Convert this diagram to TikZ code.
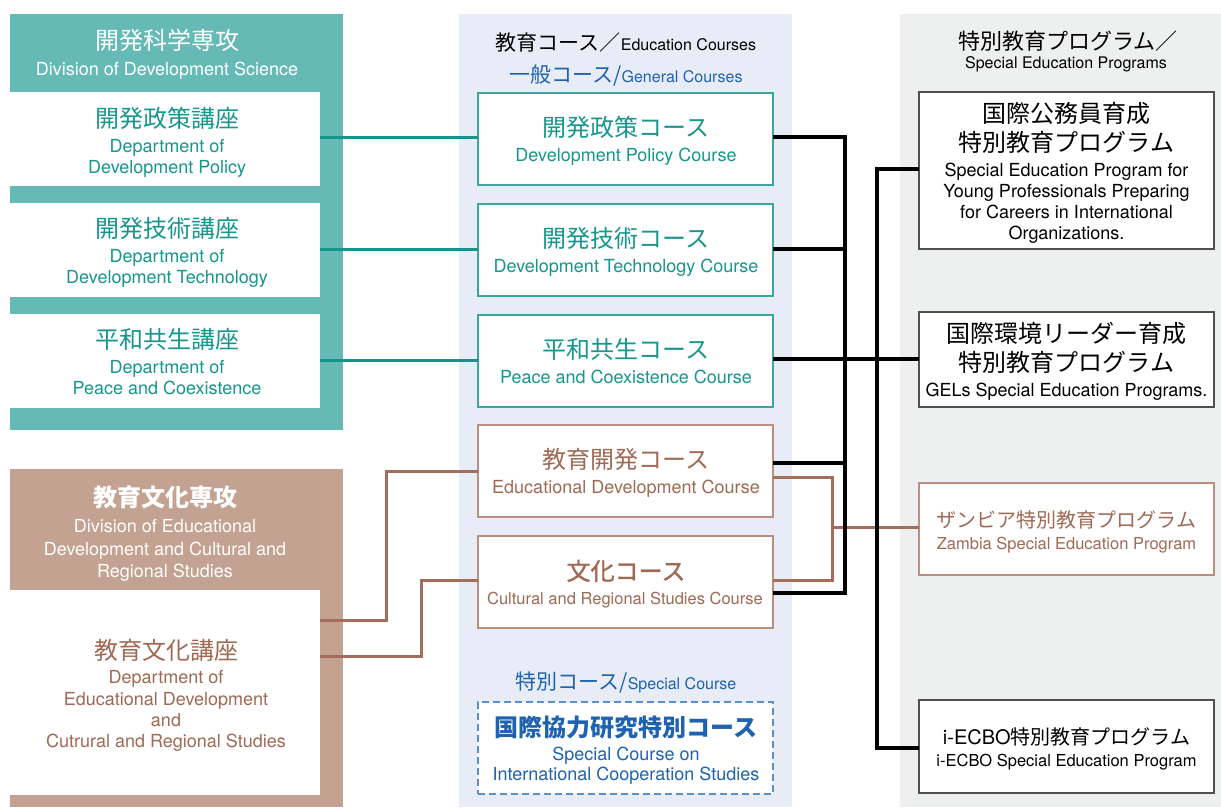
\documentclass[tikz,border=0pt]{standalone}
\usepackage{fontspec}
\setmainfont{TeX Gyre Heros}
\newfontfamily\jpf{Noto Sans CJK JP}
\newfontfamily\jpmed{Noto Sans CJK JP}[FakeBold=1.2]
\newcommand\enf{\rmfamily}
\definecolor{tealband}{HTML}{66BAB6}
\definecolor{tealtxt}{HTML}{16968C}
\definecolor{tealline}{HTML}{12958B}
\definecolor{tealborder}{HTML}{3AA6A0}
\definecolor{brownband}{HTML}{C4A292}
\definecolor{browntxt}{HTML}{A06954}
\definecolor{brownline}{HTML}{A36D59}
\definecolor{brownborder}{HTML}{BC8E7D}
\definecolor{midbg}{HTML}{E8ECF6}
\definecolor{rightbg}{HTML}{EEEFEF}
\definecolor{bluetxt}{HTML}{1E62B0}
\definecolor{bluedash}{HTML}{5B8FCC}
\definecolor{progborder}{HTML}{505050}
\begin{document}
\begin{tikzpicture}[x=1pt,y=-1pt,
  txt/.style={anchor=base, inner sep=0pt, outer sep=0pt},
  jpL/.style={font=\jpf\fontsize{24}{28}\selectfont},
  jpLB/.style={font=\jpf\bfseries\fontsize{24}{28}\selectfont},
  jpLM/.style={font=\jpmed\fontsize{24}{28}\selectfont},
  jpM/.style={font=\jpf\fontsize{21}{25}\selectfont},
  jpH/.style={font=\jpf\fontsize{22}{26}\selectfont},
  jpS/.style={font=\jpf\fontsize{20}{24}\selectfont},
  en/.style={font=\fontsize{18}{21}\selectfont},
  enS/.style={font=\fontsize{16}{19}\selectfont},
  enM/.style={font=\fontsize{16.5}{19}\selectfont},
  dept/.style={fill=white, inner sep=0pt, outer sep=0pt, minimum width=310pt, minimum height=94pt},
  course/.style={draw=#1, fill=white, line width=1.2pt, inner sep=0pt, outer sep=0pt, minimum width=295pt, minimum height=92pt},
  prog/.style={draw=#1, fill=white, line width=1.2pt, inner sep=0pt, outer sep=0pt, minimum width=295pt},
  tl/.style={draw=tealline, line width=3pt},
  brn/.style={draw=brownline, line width=3pt},
  blk/.style={draw=black, line width=3.2pt}
]
\useasboundingbox (0,0) rectangle (1221,807);
\fill[white] (0,0) rectangle (1221,807);
% panels
\fill[tealband] (10,14) rectangle (343,430);
\fill[brownband] (10,469) rectangle (343,807);
\fill[midbg] (459,14) rectangle (792,807);
\fill[rightbg] (900,14) rectangle (1221,807);
% department boxes
\node[dept] (d1) at (165,139) {};
\node[dept] (d2) at (165,250) {};
\node[dept] (d3) at (165,361) {};
\node[dept, minimum height=205pt] (d4) at (165,692.5) {};
% course boxes
\node[course=tealborder] (c1) at (625.5,139) {};
\node[course=tealborder] (c2) at (625.5,250) {};
\node[course=tealborder] (c3) at (625.5,361) {};
\node[course=brownborder] (c4) at (625.5,471) {};
\node[course=brownborder] (c5) at (625.5,582) {};
\node[course=bluedash, line width=1.5pt, dash pattern=on 7pt off 4pt] (cs) at (625.5,748) {};
% program boxes
\node[prog=progborder, minimum height=157pt] (p1) at (1066.5,170.5) {};
\node[prog=progborder, minimum height=95pt] (p2) at (1066.5,359.5) {};
\node[prog=brownborder, minimum height=92pt] (p3) at (1066.5,529) {};
\node[prog=progborder, minimum height=93pt] (p4) at (1066.5,746.5) {};
% junction coordinates
\coordinate (v1) at (845,0);
\coordinate (v2) at (877,0);
\coordinate (vb) at (832,0);
\coordinate (lb1) at (386,0);
\coordinate (lb2) at (421,0);
% teal connectors
\draw[tl] (d1.east |- 0,137) -- (c1.west |- 0,137);
\draw[tl] (d2.east |- 0,249) -- (c2.west |- 0,249);
\draw[tl] (d3.east |- 0,360) -- (c3.west |- 0,360);
% brown connectors
\draw[brn] (d4.east |- 0,620) -- (lb1 |- 0,620) -- (lb1 |- 0,471) -- (c4.west |- 0,471);
\draw[brn] (d4.east |- 0,656) -- (lb2 |- 0,656) -- (lb2 |- 0,580) -- (c5.west |- 0,580);
\draw[brn] (c4.east |- 0,477) -- (vb |- 0,477) -- (vb |- 0,580) -- (c5.east |- 0,580);
\draw[brn] (vb |- 0,527) -- (p3.west |- 0,527);
% black connectors
\draw[blk] (c1.east |- 0,137) -- (v1 |- 0,137) -- (v1 |- 0,593) -- (c5.east |- 0,593);
\draw[blk] (c2.east |- 0,249) -- (v1 |- 0,249);
\draw[blk] (c4.east |- 0,463) -- (v1 |- 0,463);
\draw[blk] (c3.east |- 0,359) -- (p2.west |- 0,359);
\draw[blk] (p1.west |- 0,169) -- (v2 |- 0,169) -- (v2 |- 0,748) -- (p4.west |- 0,748);
% teal division texts
\node[txt,jpL,white] (h1j) at (167,49) {開発科学専攻};
\node[txt,en,white] (h1e) at (167,75) {Division of Development Science};
\node[txt,jpL,tealtxt] (d1j) at (167,127) {開発政策講座};
\node[txt,en,tealtxt] (d1a) at (167,152) {Department of};
\node[txt,en,tealtxt] (d1b) at (167,173) {Development Policy};
\node[txt,jpL,tealtxt] (d2j) at (167,237.5) {開発技術講座};
\node[txt,en,tealtxt] (d2a) at (167,262) {Department of};
\node[txt,en,tealtxt] (d2b) at (167,283) {Development Technology};
\node[txt,jpL,tealtxt] (d3j) at (167,348) {平和共生講座};
\node[txt,en,tealtxt] (d3a) at (167,373) {Department of};
\node[txt,en,tealtxt] (d3b) at (167,394) {Peace and Coexistence};
% brown division texts
\node[txt,jpLB,white] (h2j) at (165,506) {教育文化専攻};
\node[txt,en,white] (h2a) at (165,532) {Division of Educational};
\node[txt,en,white] (h2b) at (165,555) {Development and Cultural and};
\node[txt,en,white] (h2c) at (165,577) {Regional Studies};
\node[txt,jpL,browntxt] (d4j) at (166,659) {教育文化講座};
\node[txt,en,browntxt] (d4a) at (166,683) {Department of};
\node[txt,en,browntxt] (d4b) at (166,705) {Educational Development};
\node[txt,en,browntxt] (d4c) at (166,726) {and};
\node[txt,en,browntxt] (d4d) at (166,747) {Cutrural and Regional Studies};
% middle headers
\node[txt,jpM] (mh1) at (626,50) {教育コース／{\enf\fontsize{16}{19}\selectfont Education Courses}};
\node[txt,jpM,bluetxt] (mh2) at (626,82.5) {一般コース/{\enf\fontsize{16}{19}\selectfont General Courses}};
% course texts
\node[txt,jpL,tealtxt] (c1j) at (626,136.5) {開発政策コース};
\node[txt,en,tealtxt] (c1e) at (626,161) {Development Policy Course};
\node[txt,jpL,tealtxt] (c2j) at (626,247.5) {開発技術コース};
\node[txt,en,tealtxt] (c2e) at (626,272) {Development Technology Course};
\node[txt,jpL,tealtxt] (c3j) at (626,358.5) {平和共生コース};
\node[txt,en,tealtxt] (c3e) at (626,383) {Peace and Coexistence Course};
\node[txt,jpL,browntxt] (c4j) at (626,468.5) {教育開発コース};
\node[txt,en,browntxt] (c4e) at (626,493) {Educational Development Course};
\node[txt,jpLM,browntxt] (c5j) at (626,580) {文化コース};
\node[txt,enM,browntxt] (c5e) at (625,604) {Cultural and Regional Studies Course};
\node[txt,jpM,bluetxt] (mh3) at (626,689) {特別コース/{\enf\fontsize{16}{19}\selectfont Special Course}};
\node[txt,jpLB,bluetxt] (csj) at (626,736) {国際協力研究特別コース};
\node[txt,en,bluetxt] (csa) at (626,760) {Special Course on};
\node[txt,en,bluetxt] (csb) at (626,780.5) {International Cooperation Studies};
% right headers
\node[txt,jpH] (rh1) at (1068,49) {特別教育プログラム／};
\node[txt,enS] (rh2) at (1066,68) {Special Education Programs};
% program texts
\node[txt,jpL] (p1j1) at (1066.5,122) {国際公務員育成};
\node[txt,jpL] (p1j2) at (1066.5,151) {特別教育プログラム};
\node[txt,en] (p1a) at (1066.5,176) {Special Education Program for};
\node[txt,en] (p1b) at (1066.5,197) {Young Professionals Preparing};
\node[txt,en] (p1c) at (1066.5,218) {for Careers in International};
\node[txt,en] (p1d) at (1066.5,239) {Organizations.};
\node[txt,jpL] (p2j1) at (1066.5,342) {国際環境リーダー育成};
\node[txt,jpL] (p2j2) at (1066.5,371) {特別教育プログラム};
\node[txt,en] (p2a) at (1066.5,396) {GELs Special Education Programs.};
\node[txt,jpS,browntxt] (p3j) at (1066.5,527) {ザンビア特別教育プログラム};
\node[txt,enM,browntxt] (p3a) at (1066.5,549) {Zambia Special Education Program};
\node[txt,jpS] (p4j) at (1066.5,744.5) {{\enf i-ECBO}特別教育プログラム};
\node[txt,enM] (p4a) at (1066.5,766) {i-ECBO Special Education Program};
\end{tikzpicture}
\end{document}
